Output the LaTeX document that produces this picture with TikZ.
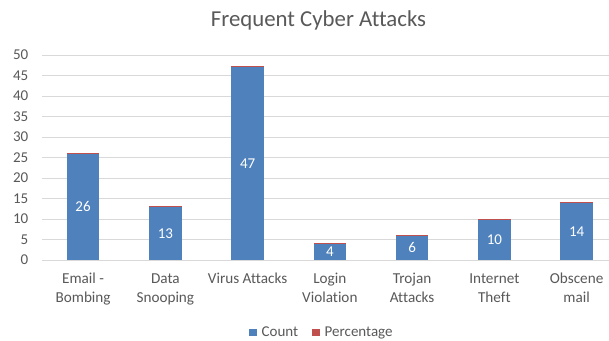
\documentclass[tikz,border=0pt]{standalone}
\usepackage{fontspec}
\setmainfont[Ligatures=CommonOff]{Carlito}
\definecolor{cblue}{HTML}{4F81BD}
\definecolor{cred}{HTML}{C0504D}
\definecolor{ctext}{HTML}{595959}
\definecolor{cgrid}{HTML}{D9D9D9}
\tikzset{
  gridline/.style={draw=cgrid, line width=0.9pt},
  ticklabel/.style={anchor=east, inner sep=0pt, text=ctext, font=\fontsize{15}{17}\selectfont},
  catlabel/.style={anchor=base, inner sep=0pt, text=ctext, font=\fontsize{15.2}{17}\selectfont},
  datalabel/.style={anchor=center, inner sep=0pt, text=white, font=\fontsize{15}{17}\selectfont},
  countbar/.style={fill=cblue, draw=none},
  pctbar/.style={fill=cred, draw=none},
  charttitle/.style={anchor=base, inner sep=0pt, text=ctext, font=\fontsize{22.8}{26}\selectfont},
  legendtext/.style={anchor=base west, inner sep=0pt, text=ctext, font=\fontsize{15}{17}\selectfont},
}
\begin{document}
\begin{tikzpicture}[x=1pt,y=-1pt]
\useasboundingbox[fill=white] (0,0) rectangle (609,340);
\begin{scope}
\clip (0,0) rectangle (609,340);
% gridlines and tick labels
\foreach \v in {0,...,10}{
  \pgfmathsetmacro{\yy}{260-20.5*\v}
  \pgfmathtruncatemacro{\lab}{5*\v}
  \draw[gridline] (42,\yy) -- (620,\yy);
  \node[ticklabel] (tick\v) at (28.5,\yy) {\lab};
}
% bars
\foreach \i/\c/\la/\lb in {0/26/Email -/Bombing, 1/13/Data/Snooping, 2/47/Virus Attacks/, 3/4/Login/Violation, 4/6/Trojan/Attacks, 5/10/Internet/Theft, 6/14/Obscene/mail}{
  \pgfmathsetmacro{\xc}{83.1+82.25*\i}
  \pgfmathsetmacro{\top}{260-4.1*\c}
  \pgfmathsetmacro{\ptop}{\top-4.1*\c/120}
  \pgfmathsetmacro{\mid}{260-2.05*\c}
  \fill[countbar] (\xc-16.3,260) rectangle (\xc+16.3,\top);
  \fill[pctbar] (\xc-16.3,\top) rectangle (\xc+16.3,\ptop);
  \node[datalabel] (val\i) at (\xc,\mid) {\c};
  \node[catlabel] (cata\i) at (\xc,283) {\la};
  \node[catlabel] (catb\i) at (\xc,302) {\lb};
}
\end{scope}
% title
\node[charttitle] (title) at (318.5,26) {Frequent Cyber Attacks};
% legend
\fill[countbar] (249,329) rectangle (257,336);
\node[legendtext] (legcount) at (261.5,336.5) {Count};
\fill[pctbar] (312,329) rectangle (320,336);
\node[legendtext] (legpct) at (324.5,336.5) {Percentage};
\end{tikzpicture}
\end{document}
